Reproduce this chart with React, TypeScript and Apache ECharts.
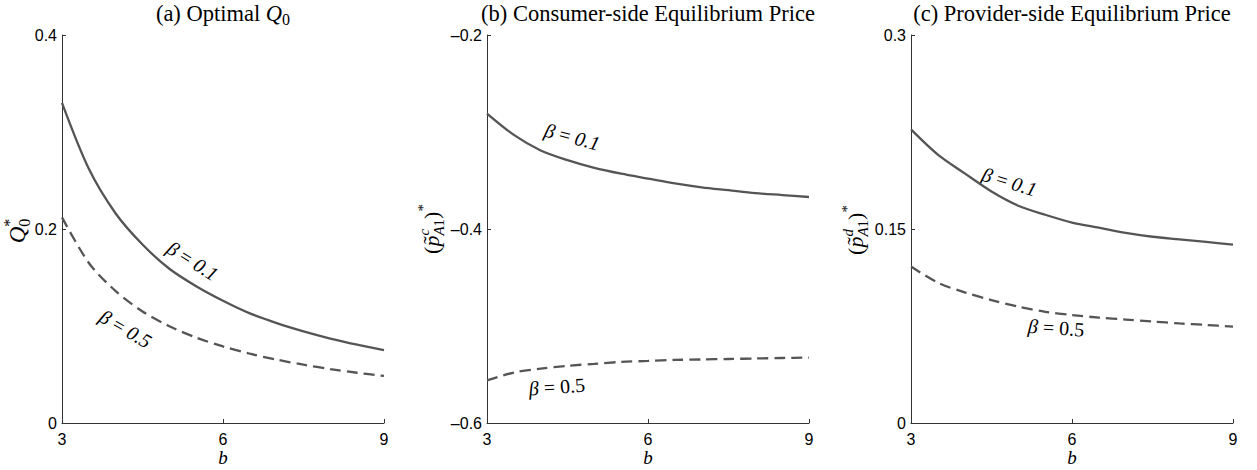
import React, { useEffect, useRef } from "react";
import * as echarts from "echarts";

// ---- data ----
const bValues = [3, 3.5, 4, 4.5, 5, 5.5, 6, 6.5, 7, 7.5, 8, 8.5, 9];
const q0Beta01 = [0.33, 0.262, 0.216, 0.184, 0.159, 0.141, 0.126, 0.113, 0.103, 0.0945, 0.0871, 0.0808, 0.0752];
const q0Beta05 = [0.212, 0.165, 0.136, 0.115, 0.0998, 0.0881, 0.0789, 0.0714, 0.0653, 0.0601, 0.0556, 0.0518, 0.0485];
const pcBeta01 = [-0.281, -0.303, -0.319, -0.329, -0.337, -0.343, -0.348, -0.353, -0.357, -0.36, -0.363, -0.365, -0.367];
const pcBeta05 = [-0.556, -0.548, -0.544, -0.541, -0.539, -0.537, -0.536, -0.535, -0.5345, -0.534, -0.5335, -0.533, -0.5325];
const pdBeta01 = [0.227, 0.2075, 0.193, 0.179, 0.168, 0.161, 0.155, 0.151, 0.147, 0.144, 0.142, 0.14, 0.138];
const pdBeta05 = [0.121, 0.1085, 0.101, 0.095, 0.09, 0.086, 0.0835, 0.0815, 0.08, 0.0785, 0.077, 0.0758, 0.0745];

const xRange = [3, 9, 3];
const yRanges = [
  [0, 0.4, 0.2],
  [-0.6, -0.2, 0.2],
  [0, 0.3, 0.15],
];
const seriesPairs = [
  [q0Beta01, q0Beta05],
  [pcBeta01, pcBeta05],
  [pdBeta01, pdBeta05],
];
const betaLabels = ["0.1", "0.5"];
const xName = "b";

// ---- layout / style ----
const GRID_LEFTS = [62, 487, 911];
const GRID_TOP = 35;
const GRID_W = 322;
const GRID_H = 388;
const SERIF = "Liberation Serif";
const SANS = "Liberation Sans";
const LINE = "#555";
const AXIS = "#333";

type P = { t: string; s: number; i?: boolean; dy?: number };
type Item = P | { over: P } | { stack: [P[], P[]] };

let ctx: CanvasRenderingContext2D | null = null;
function measure(p: P) {
  if (!ctx) ctx = document.createElement("canvas").getContext("2d");
  ctx!.font = `${p.i ? "italic " : ""}${p.s}px "${SERIF}"`;
  return ctx!.measureText(p.t).width;
}

function textEl(p: P, x: number, baseline: number) {
  return {
    type: "text",
    x,
    y: baseline + (p.dy || 0) - 0.3375 * p.s,
    silent: true,
    style: {
      text: p.t,
      fontSize: p.s,
      fontFamily: SERIF,
      fontStyle: p.i ? "italic" : "normal",
      fill: "#000",
      align: "left",
      verticalAlign: "middle",
    },
  };
}

function mathGroup(items: Item[], cx: number, cy: number, rotDeg: number, baseline: number) {
  const children: any[] = [];
  let x = 0;
  let prevX = 0;
  let prevW = 0;
  for (const it of items) {
    if ("over" in it) {
      const w = measure(it.over);
      children.push(textEl(it.over, prevX + prevW / 2 - w / 2 + 1, baseline));
    } else if ("stack" in it) {
      let maxW = 0;
      for (const row of it.stack) {
        let rx = x;
        for (const p of row) {
          const w = measure(p);
          children.push(textEl(p, rx, baseline));
          rx += w;
        }
        maxW = Math.max(maxW, rx - x);
      }
      prevX = x;
      prevW = maxW;
      x += maxW;
    } else {
      const w = measure(it);
      children.push(textEl(it, x, baseline));
      prevX = x;
      prevW = w;
      x += w;
    }
  }
  const W = x;
  children.forEach((c) => (c.x -= W / 2));
  return {
    type: "group",
    x: cx,
    y: cy,
    rotation: (rotDeg * Math.PI) / 180,
    children,
  };
}

function betaLabel(val: string, italicDigits: boolean, cx: number, cy: number, rot: number) {
  const s = 20;
  return mathGroup(
    [
      { t: "β", s, i: true },
      { t: " = ", s },
      { t: val, s, i: italicDigits },
    ],
    cx,
    cy,
    rot,
    0.27 * s
  );
}

function yName(letter: string, cx: number, cy: number) {
  return mathGroup(
    [
      { t: "(", s: 22 },
      { t: "p", s: 22, i: true },
      { over: { t: "˜", s: 22, i: false, dy: -1 } },
      { stack: [[{ t: letter, s: 15, i: true, dy: -10 }], [{ t: "A", s: 15, i: true, dy: 5 }, { t: "1", s: 15, dy: 5 }]] },
      { t: ")", s: 22 },
      { t: "*", s: 15, dy: -11 },
    ],
    cx,
    cy,
    90,
    6
  );
}

export default function App() {
  const ref = useRef<HTMLDivElement>(null);
  useEffect(() => {
    if (!ref.current) return;
    const chart = echarts.init(ref.current, undefined, { renderer: "svg" });

    const grids = GRID_LEFTS.map((left) => ({
      left,
      top: GRID_TOP,
      width: GRID_W,
      height: GRID_H,
      containLabel: false,
      outerBoundsMode: "none",
    }));
    const xAxes = GRID_LEFTS.map((_, i) => ({
      type: "value",
      gridIndex: i,
      min: xRange[0],
      max: xRange[1],
      interval: xRange[2],
      axisLine: { show: true, lineStyle: { color: AXIS, width: 1 } },
      axisTick: { show: true, inside: true, length: 4, lineStyle: { color: AXIS } },
      axisLabel: { color: "#000", fontFamily: SANS, fontSize: 16, margin: 8 },
      splitLine: { show: false },
    }));
    const yAxes = yRanges.map((r, i) => ({
      type: "value",
      gridIndex: i,
      min: r[0],
      max: r[1],
      interval: r[2],
      axisLine: { show: true, onZero: false, lineStyle: { color: AXIS, width: 1 } },
      axisTick: { show: true, inside: true, length: 4, lineStyle: { color: AXIS } },
      axisLabel: {
        color: "#000",
        fontFamily: SANS,
        fontSize: 16,
        margin: 5,
        formatter: (v: number) => String(Math.round(v * 1000) / 1000).replace("-", "\u2013"),
      },
      splitLine: { show: false },
    }));
    const series: any[] = [];
    seriesPairs.forEach((pair, i) => {
      pair.forEach((vals, j) => {
        series.push({
          type: "line",
          name: `β = ${betaLabels[j]}`,
          xAxisIndex: i,
          yAxisIndex: i,
          data: bValues.map((b, k) => [b, vals[k]]),
          showSymbol: false,
          smooth: 0.3,
          lineStyle: { color: LINE, width: 2.3, type: j === 0 ? "solid" : [11, 6] },
          z: 3,
        });
      });
    });

    const titleS = 22.5;
    const graphic: any[] = [
      mathGroup([{ t: "(a) Optimal ", s: titleS }, { t: "Q", s: titleS, i: true }, { t: "0", s: 16, dy: 4 }], 223, 0, 0, 21),
      mathGroup([{ t: "(b) Consumer-side Equilibrium Price", s: titleS }], 648, 0, 0, 21),
      mathGroup([{ t: "(c) Provider-side Equilibrium Price", s: titleS }], 1072, 0, 0, 21),
      // x-axis names
      ...GRID_LEFTS.map((left) => ({
        type: "text",
        x: left + GRID_W / 2,
        y: 457,
        silent: true,
        style: {
          text: xName,
          fontSize: 19,
          fontFamily: SERIF,
          fontStyle: "italic",
          fill: "#000",
          align: "center",
          verticalAlign: "middle",
        },
      })),
      // y-axis names
      mathGroup(
        [{ t: "Q", s: 23, i: true }, { stack: [[{ t: "*", s: 16, dy: -10 }], [{ t: "0", s: 16, dy: 5 }]] }],
        18,
        231,
        90,
        7
      ),
      yName("c", 433, 229),
      yName("d", 857, 230),
      // curve labels
      betaLabel(betaLabels[0], true, 192, 262, -32),
      betaLabel(betaLabels[1], true, 125, 330, -30),
      betaLabel(betaLabels[0], true, 572, 138, -15),
      betaLabel(betaLabels[1], false, 557, 388, 4),
      betaLabel(betaLabels[0], true, 1009, 183, -17),
      betaLabel(betaLabels[1], false, 1056, 329, -4),
    ];

    chart.setOption({
      animation: false,
      backgroundColor: "#fff",
      grid: grids,
      xAxis: xAxes,
      yAxis: yAxes,
      series,
      graphic,
    });
    return () => chart.dispose();
  }, []);

  return (
    <div
      ref={ref}
      style={{ position: "fixed", left: 0, top: 0, width: 1257, height: 470, background: "#fff" }}
    />
  );
}
